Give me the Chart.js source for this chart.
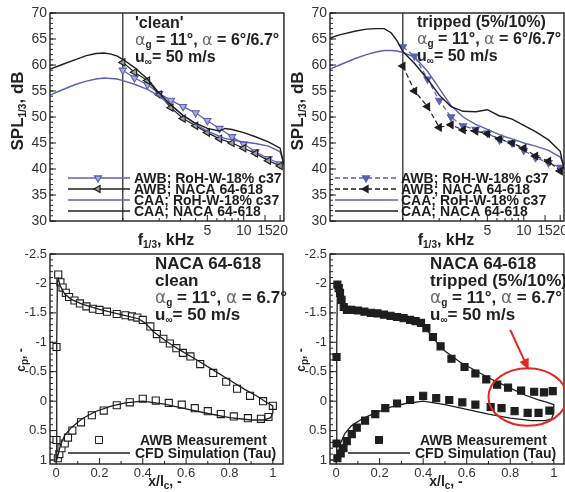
<!DOCTYPE html>
<html>
<head>
<meta charset="utf-8">
<script src="https://cdn.jsdelivr.net/npm/chart.js@4.4.1/dist/chart.umd.min.js"></script>
<style>
  body { margin: 0; background: #fff; overflow: hidden; }
  #fig { position: relative; width: 565px; height: 492px; overflow: hidden;
         font-family: "Liberation Sans", Arial, sans-serif; color: #222; }
  canvas { position: absolute; }
  .note { position: absolute; font-weight: bold; white-space: nowrap; }
  .note i { font-style: normal; font-weight: normal; color: #6a6a6a; font-family: "DejaVu Sans", sans-serif; }
  sub { font-size: 10px; line-height: 0; vertical-align: -3px; }
  .title { position: absolute; font-weight: bold; white-space: nowrap; transform: translate(-50%, -50%); }
  .title.rot { transform: translate(-50%, -50%) rotate(-90deg); }
</style>
</head>
<body>
<div id="fig">
  <canvas id="splClean" width="290" height="248" style="left:0;top:0"></canvas>
  <canvas id="splTripped" width="295" height="248" style="left:280px;top:0"></canvas>
  <canvas id="cpClean" width="290" height="252" style="left:0;top:240px"></canvas>
  <canvas id="cpTripped" width="295" height="252" style="left:280px;top:240px"></canvas>

  <div class="note" style="left:135px;top:14px;font-size:16px;line-height:17px">'clean'<br><i>α</i><sub>g</sub> = 11°, <i>α</i> = 6°/6.7°<br>u<sub>∞</sub>= 50 m/s</div>
  <div class="note" style="left:417px;top:13px;font-size:16px;line-height:17px">tripped (5%/10%)<br><i>α</i><sub>g</sub> = 11°, <i>α</i> = 6°/6.7°<br>u<sub>∞</sub>= 50 m/s</div>
  <div class="note" style="left:155px;top:256px;font-size:17px;line-height:16.7px">NACA 64-618<br>clean<br><i>α</i><sub>g</sub> = 11°, <i>α</i> = 6.7°<br>u<sub>∞</sub>= 50 m/s</div>
  <div class="note" style="left:430px;top:256px;font-size:17px;line-height:16.7px">NACA 64-618<br>tripped (5%/10%)<br><i>α</i><sub>g</sub> = 11°, <i>α</i> = 6.7°<br>u<sub>∞</sub>= 50 m/s</div>

  <div class="title rot" style="left:18px;top:111px;font-size:17px">SPL<sub>1/3</sub>, dB</div>
  <div class="title rot" style="left:298px;top:111px;font-size:17px">SPL<sub>1/3</sub>, dB</div>
  <div class="title" style="left:166px;top:240px;font-size:16px">f<sub>1/3</sub>, kHz</div>
  <div class="title" style="left:446px;top:240px;font-size:16px">f<sub>1/3</sub>, kHz</div>
  <div class="title rot" style="left:21px;top:360px;font-size:12px">c<sub>p</sub>, -</div>
  <div class="title rot" style="left:301px;top:360px;font-size:12px">c<sub>p</sub>, -</div>
  <div class="title" style="left:165px;top:481px;font-size:14px">x/l<sub>c</sub>, -</div>
  <div class="title" style="left:446px;top:481px;font-size:14px">x/l<sub>c</sub>, -</div>
</div>
<script>
// ---- sound pressure spectra (1/3 octave) ----
const bandsKHz = [1, 1.25, 1.6, 2, 2.5, 3.15, 4, 5, 6.3, 8, 10, 12.5, 16, 20];
const awbRohClean = [59, 57.5, 56.2, 54.5, 53.2, 52, 50.8, 49.3, 47.8, 46.2, 44.8, 43.3, 42, 41];
const awbNacaClean = [60.5, 58.6, 57, 54.3, 51.8, 49.7, 48.3, 47, 45.8, 45, 44, 43, 41.6, 40.6];
const awbRohTripped = [63.5, 61.7, 57.3, 53.2, 50, 48.3, 47.6, 46.9, 45.6, 45, 43.6, 42.2, 41.2, 40.3];
const awbNacaTripped = [59.8, 55, 52, 48, 48.5, 47.5, 47.3, 46.8, 45.8, 45, 44, 42.5, 41.5, 39.6];

const caaFreqKHz = [0.25, 0.3, 0.4, 0.5, 0.6, 0.7, 0.8, 0.9, 1, 1.25, 1.6, 2, 2.5, 3.15, 4, 5, 6.3, 7, 8, 10, 12.5, 16, 20, 21.5];
const caaNacaClean = [59.2, 59.9, 61, 61.8, 62.2, 62.3, 62.1, 61.7, 61.1, 59.5, 57.3, 54.6, 52.3, 50.3, 48.8, 47.8, 47.3, 47.8, 47.6, 47, 46.2, 45.2, 44, 40.8];
const caaRohClean = [54.2, 55, 56.2, 56.9, 57.3, 57.5, 57.4, 57.3, 57, 56.3, 55.3, 54, 52.3, 50.3, 48.6, 47.3, 46.3, 45.9, 45.6, 45.2, 44.9, 44.4, 43.3, 41];
const caaNacaTripped = [65.2, 65.8, 66.5, 66.9, 67, 67, 66.2, 64.6, 62.6, 60.3, 57.3, 54.2, 52, 51.1, 51, 51.4, 50.2, 50, 49.6, 48.4, 47.2, 45.6, 43.4, 40];
const caaRohTripped = [59.2, 60, 61.2, 62, 62.5, 62.8, 62.8, 62.7, 62.4, 61.5, 58.8, 55.5, 52.2, 50, 48.6, 47.6, 46.6, 46.2, 45.8, 45, 44.4, 43.6, 42.3, 40.5];

const refLineKHz = 1;
const splTicks = [30, 35, 40, 45, 50, 55, 60, 65, 70];
const freqTicks = [5, 10, 15, 20];
const freqMinor = [1, 2, 3, 4, 6, 7, 8, 9];

// ---- pressure distributions ----
const cleanUpperX = [0.002, 0.01, 0.02, 0.03, 0.045, 0.06, 0.085, 0.11, 0.14, 0.17, 0.2, 0.235, 0.28, 0.32, 0.35, 0.375, 0.4, 0.435, 0.465, 0.495, 0.525, 0.555, 0.585, 0.62, 0.665, 0.725, 0.785, 0.835, 0.895, 0.955, 1.0];
const cleanUpperCp = [-0.92, -2.15, -2.02, -1.93, -1.84, -1.77, -1.71, -1.66, -1.61, -1.57, -1.55, -1.52, -1.48, -1.46, -1.44, -1.42, -1.38, -1.27, -1.14, -1.06, -0.98, -0.9, -0.82, -0.76, -0.63, -0.48, -0.33, -0.21, -0.09, 0.0, 0.08];
const cleanLowerX = [0.002, 0.008, 0.015, 0.025, 0.04, 0.055, 0.075, 0.115, 0.165, 0.22, 0.28, 0.34, 0.4, 0.46, 0.52, 0.58, 0.64, 0.7, 0.76, 0.82, 0.885, 0.945, 0.98];
const cleanLowerCp = [0.66, 0.97, 0.9, 0.8, 0.72, 0.62, 0.5, 0.36, 0.24, 0.16, 0.07, 0.02, -0.04, -0.01, 0.03, 0.06, 0.12, 0.17, 0.22, 0.26, 0.29, 0.3, 0.27];

const trippedUpperX = [0.002, 0.006, 0.012, 0.018, 0.025, 0.035, 0.05, 0.07, 0.1, 0.13, 0.16, 0.19, 0.22, 0.25, 0.28, 0.31, 0.34, 0.365, 0.39, 0.415, 0.445, 0.48, 0.53, 0.59, 0.64, 0.69, 0.74, 0.79, 0.85, 0.91, 0.955, 0.995];
const trippedUpperCp = [-0.75, -1.98, -1.92, -1.84, -1.72, -1.6, -1.55, -1.55, -1.54, -1.52, -1.5, -1.49, -1.47, -1.45, -1.43, -1.41, -1.38, -1.36, -1.33, -1.24, -1.09, -0.93, -0.72, -0.58, -0.47, -0.37, -0.28, -0.23, -0.18, -0.16, -0.15, -0.17];
const trippedLowerX = [0.002, 0.006, 0.021, 0.034, 0.049, 0.072, 0.095, 0.133, 0.18, 0.226, 0.28, 0.34, 0.4, 0.46, 0.52, 0.58, 0.64, 0.71, 0.76, 0.82, 0.88, 0.93, 0.98];
const trippedLowerCp = [0.72, 0.97, 0.89, 0.8, 0.68, 0.56, 0.45, 0.33, 0.22, 0.12, 0.04, -0.02, -0.09, -0.05, -0.02, 0.02, 0.06, 0.1, 0.12, 0.17, 0.2, 0.2, 0.16];

// CFD contour, traced upper TE -> LE -> lower TE
const cfdX = [1.0, 0.97, 0.93, 0.87, 0.8, 0.72, 0.64, 0.57, 0.5, 0.45, 0.41, 0.38, 0.3, 0.2, 0.12, 0.07, 0.04, 0.02, 0.01, 0.006, 0.003, 0.002, 0.004, 0.01, 0.02, 0.04, 0.07, 0.12, 0.18, 0.25, 0.32, 0.4, 0.5, 0.6, 0.7, 0.8, 0.9, 0.96, 0.99, 1.0, 1.0];
const cfdCleanCp = [0.08, 0.02, -0.08, -0.2, -0.36, -0.54, -0.72, -0.87, -1.04, -1.18, -1.33, -1.4, -1.47, -1.56, -1.65, -1.73, -1.82, -1.95, -2.08, -2.02, -1.0, 0.6, 1.0, 0.9, 0.75, 0.58, 0.45, 0.3, 0.18, 0.09, 0.03, 0.0, 0.05, 0.13, 0.21, 0.28, 0.32, 0.32, 0.28, 0.2, 0.08];
const cfdTrippedCp = [0.06, 0.02, -0.02, -0.1, -0.22, -0.36, -0.52, -0.66, -0.85, -1.05, -1.25, -1.33, -1.42, -1.48, -1.52, -1.55, -1.62, -1.82, -1.98, -1.95, -1.0, 0.6, 1.0, 0.88, 0.72, 0.55, 0.42, 0.3, 0.2, 0.1, 0.04, 0.0, 0.06, 0.14, 0.22, 0.29, 0.33, 0.33, 0.3, 0.2, 0.05];

const cpTicks = [-2.5, -2, -1.5, -1, -0.5, 0, 0.5, 1];
const chordTicks = [0, 0.2, 0.4, 0.6, 0.8, 1];

const BLUE = '#5a62b4';
const INK = '#1e1e1e';
const RED = '#e3261f';

Chart.defaults.font.family = '"Liberation Sans", Arial, sans-serif';

const xy = (xs, ys) => xs.map((x, i) => ({ x, y: ys[i] }));
const steps = (from, to, step) => {
  const out = [];
  for (let v = from; v <= to + 1e-9; v += step) out.push(Math.round(v * 100) / 100);
  return out;
};

// frame, inward ticks, in-plot legend and the red highlight
function decorations(d) {
  return {
    id: 'decorations',
    afterDatasetsDraw(chart) {
      const { ctx, chartArea: a, scales: { x, y } } = chart;
      ctx.save();
      ctx.strokeStyle = INK;
      ctx.lineWidth = 1.4;
      ctx.strokeRect(a.left, a.top, a.right - a.left, a.bottom - a.top);
      ctx.lineWidth = 1;
      const mark = (vals, len, onX) => vals.forEach((v) => {
        ctx.beginPath();
        if (onX) {
          const p = x.getPixelForValue(v);
          ctx.moveTo(p, a.bottom); ctx.lineTo(p, a.bottom - len);
        } else {
          const p = y.getPixelForValue(v);
          ctx.moveTo(a.left, p); ctx.lineTo(a.left + len, p);
        }
        ctx.stroke();
      });
      mark(d.xMajor, 6, true);
      mark(d.xMinor, 3, true);
      mark(d.yMajor, 6, false);
      mark(d.yMinor, 3, false);

      const L = d.legend;
      L.rows.forEach((r) => {
        if (r.line) {
          ctx.strokeStyle = r.color;
          ctx.lineWidth = 1.3;
          ctx.setLineDash(r.dash || []);
          ctx.beginPath();
          ctx.moveTo(L.x0, r.y); ctx.lineTo(L.x1, r.y);
          ctx.stroke();
          ctx.setLineDash([]);
        }
        if (r.style) {
          ctx.strokeStyle = r.color;
          ctx.fillStyle = r.fill;
          Chart.helpers.drawPoint(ctx, { pointStyle: r.style, rotation: r.rotation || 0, radius: r.radius || 4, borderWidth: 1.1 }, L.mx, r.y);
        }
        ctx.fillStyle = INK;
        ctx.font = `bold ${L.size}px "Liberation Sans", Arial, sans-serif`;
        ctx.textBaseline = 'middle';
        ctx.fillText(r.text, r.tx || L.tx, r.y + 1);
      });

      if (d.ring) {
        const R = d.ring;
        const cx = x.getPixelForValue(R.x), cy = y.getPixelForValue(R.y);
        const rx = Math.abs(x.getPixelForValue(R.x + R.rx) - cx);
        const ry = Math.abs(y.getPixelForValue(R.y + R.ry) - cy);
        ctx.strokeStyle = RED;
        ctx.fillStyle = RED;
        ctx.lineWidth = 2;
        ctx.beginPath();
        ctx.ellipse(cx, cy, rx, ry, 0, 0, Math.PI * 2);
        ctx.stroke();
        const x0 = x.getPixelForValue(R.arrow[0]), y0 = y.getPixelForValue(R.arrow[1]);
        const x1 = x.getPixelForValue(R.arrow[2]), y1 = y.getPixelForValue(R.arrow[3]);
        const ang = Math.atan2(y1 - y0, x1 - x0);
        ctx.beginPath();
        ctx.moveTo(x0, y0);
        ctx.lineTo(x1 - 8 * Math.cos(ang), y1 - 8 * Math.sin(ang));
        ctx.stroke();
        ctx.beginPath();
        ctx.moveTo(x1, y1);
        ctx.lineTo(x1 - 11 * Math.cos(ang) + 5 * Math.sin(ang), y1 - 11 * Math.sin(ang) - 5 * Math.cos(ang));
        ctx.lineTo(x1 - 11 * Math.cos(ang) - 5 * Math.sin(ang), y1 - 11 * Math.sin(ang) + 5 * Math.cos(ang));
        ctx.closePath();
        ctx.fill();
      }
      ctx.restore();
    },
  };
}

function options(o) {
  const font = { size: o.fontSize };
  return {
    responsive: false,
    animation: false,
    events: [],
    layout: { padding: o.padding },
    plugins: { legend: { display: false }, tooltip: { enabled: false } },
    scales: {
      x: {
        type: o.xType, min: o.xMin, max: o.xMax,
        afterFit: (s) => { s.height = o.xHeight; },
        afterBuildTicks: (s) => { s.ticks = o.xTicks.map((v) => ({ value: v })); },
        ticks: { font, color: '#333', padding: 2, maxRotation: 0, autoSkip: false, callback: (v) => String(v) },
        grid: { display: false, drawTicks: false },
        border: { display: false },
      },
      y: {
        type: 'linear', min: o.yMin, max: o.yMax, reverse: !!o.yReverse,
        afterFit: (s) => { s.width = 50; },
        afterBuildTicks: (s) => { s.ticks = o.yTicks.map((v) => ({ value: v })); },
        ticks: { font, color: '#333', padding: 3, autoSkip: false, callback: (v) => String(v) },
        grid: { display: false, drawTicks: false },
        border: { display: false },
      },
    },
  };
}

function splChart(id, rightPad, awbDash, awbFill, series, key) {
  const [awbRoh, awbNaca, caaRoh, caaNaca] = series;
  const awb = (data, color, rotation, fill) => ({
    data: xy(bandsKHz, data), borderColor: color, borderWidth: 1.2, borderDash: awbDash,
    pointStyle: 'triangle', rotation, pointRadius: 4.2, pointBorderWidth: 1.1,
    pointBorderColor: color, pointBackgroundColor: fill,
  });
  const caa = (data, color) => ({ data: xy(caaFreqKHz, data), borderColor: color, borderWidth: 1.4, pointRadius: 0 });
  new Chart(document.getElementById(id), {
    type: 'line',
    data: {
      datasets: [
        caa(caaNaca, INK),
        caa(caaRoh, BLUE),
        awb(awbNaca, INK, -90, awbFill[1]),
        awb(awbRoh, BLUE, 180, awbFill[0]),
        { data: [{ x: refLineKHz, y: 30 }, { x: refLineKHz, y: 70 }], borderColor: INK, borderWidth: 1.2, pointRadius: 0 },
      ],
    },
    options: options({
      fontSize: 14, padding: { left: 0, right: rightPad, top: 13, bottom: 0 }, xHeight: 27,
      xType: 'logarithmic', xMin: 0.25, xMax: 21.5, xTicks: freqTicks,
      yMin: 30, yMax: 70, yTicks: splTicks,
    }),
    plugins: [decorations({
      xMajor: freqTicks, xMinor: freqMinor, yMajor: splTicks, yMinor: steps(30, 70, 1),
      legend: {
        ...key, size: 14,
        rows: [
          { text: 'AWB; RoH-W-18% c37', color: BLUE, line: true, dash: awbDash, style: 'triangle', rotation: 180, fill: awbFill[0], y: 178 },
          { text: 'AWB; NACA 64-618', color: INK, line: true, dash: awbDash, style: 'triangle', rotation: -90, fill: awbFill[1], y: 189 },
          { text: 'CAA; RoH-W-18% c37', color: BLUE, line: true, y: 200 },
          { text: 'CAA; NACA 64-618', color: INK, line: true, y: 211 },
        ],
      },
    })],
  });
}

function cpChart(id, rightPad, upper, lower, cfdCp, squareFill, ring) {
  const squares = (pts) => ({
    data: pts, showLine: false, pointStyle: 'rect', pointRadius: 5,
    pointBorderColor: INK, pointBorderWidth: 1.1, pointBackgroundColor: squareFill,
  });
  new Chart(document.getElementById(id), {
    type: 'line',
    data: {
      datasets: [
        { data: xy(cfdX, cfdCp), borderColor: INK, borderWidth: 1.3, pointRadius: 0 },
        squares(upper),
        squares(lower),
      ],
    },
    options: options({
      fontSize: 13, padding: { left: 0, right: rightPad, top: 14, bottom: 0 }, xHeight: 28,
      xType: 'linear', xMin: -0.028, xMax: 1.047, xTicks: chordTicks,
      yMin: -2.5, yMax: 1.068, yReverse: true, yTicks: cpTicks,
    }),
    plugins: [decorations({
      xMajor: chordTicks, xMinor: steps(0.1, 0.9, 0.2), yMajor: cpTicks, yMinor: steps(-2.5, 1, 0.1),
      legend: {
        x0: 68, x1: 130, mx: 99, tx: 135, size: 14,
        rows: [
          { text: 'AWB Measurement', color: INK, style: 'rect', radius: 5, fill: squareFill, y: 200, tx: 140 },
          { text: 'CFD Simulation (Tau)', color: INK, line: true, y: 213 },
        ],
      },
      ring,
    })],
  });
}

splChart('splClean', 5, [], ['#a9acdc', '#9a9a9a'], [awbRohClean, awbNacaClean, caaRohClean, caaNacaClean],
  { x0: 68, x1: 130, mx: 98, tx: 134 });
splChart('splTripped', 11, [5, 3], [BLUE, INK], [awbRohTripped, awbNacaTripped, caaRohTripped, caaNacaTripped],
  { x0: 55, x1: 118, mx: 86, tx: 121 });
cpChart('cpClean', 7, xy(cleanUpperX, cleanUpperCp), xy(cleanLowerX, cleanLowerCp), cfdCleanCp, '#ffffff', null);
cpChart('cpTripped', 11, xy(trippedUpperX, trippedUpperCp), xy(trippedLowerX, trippedLowerCp), cfdTrippedCp, INK,
  { x: 0.88, y: -0.07, rx: 0.18, ry: 0.49, arrow: [0.8, -1.21, 0.885, -0.53] });
</script>
</body>
</html>
